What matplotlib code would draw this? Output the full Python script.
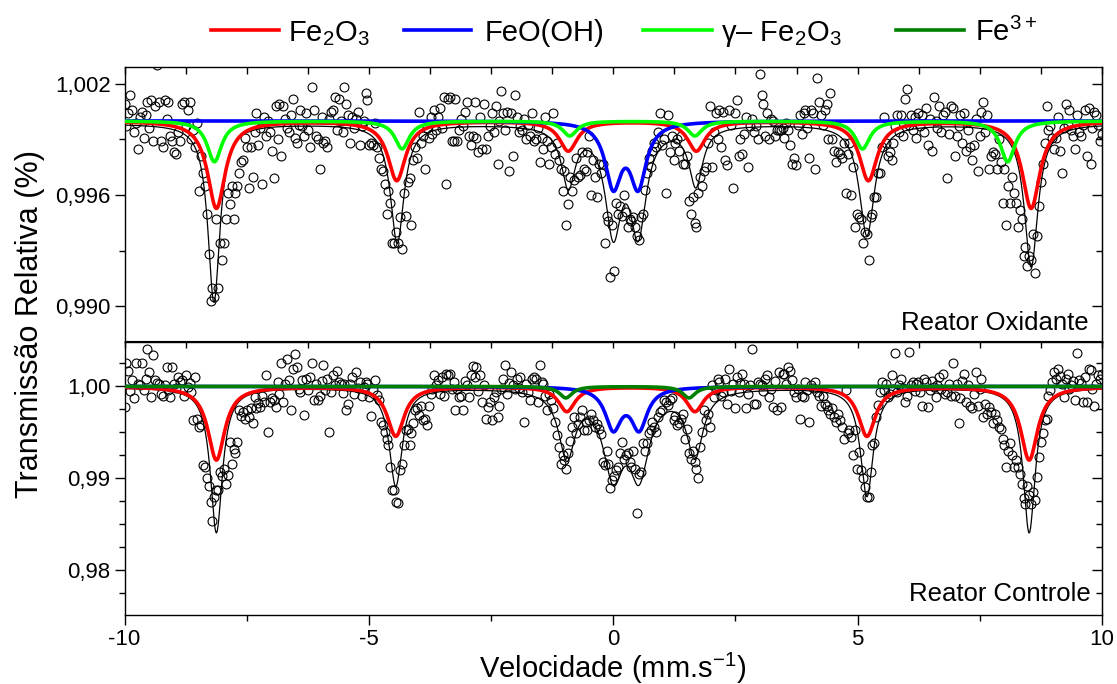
import numpy as np
import matplotlib
matplotlib.use("Agg")
import matplotlib.pyplot as plt
from matplotlib.lines import Line2D
from matplotlib.ticker import FixedLocator, MultipleLocator, FuncFormatter

plt.rcParams['font.family'] = ['Liberation Sans', 'DejaVu Sans']
plt.rcParams['mathtext.fontset'] = 'custom'
plt.rcParams['mathtext.rm'] = 'Liberation Sans'
plt.rcParams['mathtext.it'] = 'Liberation Sans:italic'
plt.rcParams['mathtext.bf'] = 'Liberation Sans:bold'

# ---------------------------------------------------------------- data
VEL_MIN, VEL_MAX, N_CHANNELS = -10.0, 10.0, 512

# Measured relative transmission, offset from 1 in units of 1e-4, one value per channel
oxidante_counts = [
    9, -3, 4, 14, 6, -6, -1, -15, 2, 5, -9, 3, 10, -4, 11, -11, 8, 30, 10, -11, -14, 11, 1, 10, -8, -11, -17, -18, -6, -11, 9, 10,
    -3, 6, 10, -10, -5, -14, -1, -38, -19, -28, -35, -50, -72, -97, -90, -95, -53, -90, -66, -75, -66, -53, -39, -45, -35, -53, -39, -35, -28, -22, -21, -9,
    -14, -36, -14, -30, -6, 4, -13, -4, -34, 2, -8, 0, -6, -16, -31, 8, -10, 9, -19, 8, 1, -4, -6, 3, 12, -9, -12, -2, 6, -3, -8, 4,
    -5, -14, 18, 6, -8, -10, -26, 2, -12, -11, -14, 1, 5, 6, 13, -5, 12, 0, -6, 18, 9, 3, -12, 2, -4, 1, 5, -13, -3, 0, 15, 11,
    -13, -12, -13, -1, -14, -20, -26, -27, -34, -50, -38, -44, -66, -66, -60, -66, -52, -69, -39, -51, -33, -31, -56, -21, -14, -20, 5, -12, -8, -26, -4, -9,
    2, -7, 6, -5, 2, 7, -4, 13, -34, 12, 13, -11, -11, 12, -11, -5, 1, -3, 5, 10, -8, -13, -8, 10, -9, -17, 2, -15, 9, -15, -8, -3,
    4, -6, 8, -23, 0, 16, 4, -5, 5, -27, 4, -19, 14, 2, -6, -3, -5, 1, -10, -2, -8, 4, -11, -10, -4, -22, -9, -15, 2, -11, -23, -14,
    4, -18, -12, -21, -26, -38, -27, -56, -45, -30, -38, -32, -20, -30, -29, -17, -26, -27, -17, -8, -40, -21, -30, -41, -23, -28, -23, -66, -51, -54, -84, -56,
    -81, -44, -50, -46, -51, -40, -49, -57, -53, -54, -52, -57, -62, -64, -52, -50, -37, -28, -20, -25, -16, -12, -14, -6, 4, -13, -10, -39, 3, -17, -8, -21,
    -12, -10, -16, -8, -23, -23, -19, -43, -50, -41, -55, -57, -39, -30, -35, -27, -25, -12, 8, -25, -6, 4, -10, 6, -14, 5, -21, -24, 6, -2, -36, 4,
    11, -19, -10, -18, -7, 2, -25, -3, 1, -6, -3, -10, 25, 14, 9, -8, 4, -10, 1, 0, -8, -5, -5, -5, -4, -9, -1, -5, -13, -23, -20, -24,
    -2, 3, -7, 4, 6, -4, -20, 6, 4, -26, 23, 10, 3, -2, 6, 9, -10, 15, -10, -16, -22, -17, -18, -20, -12, -39, -18, -12, -40, -25, -57, -50,
    -52, -53, -66, -60, -61, -75, -52, -50, -41, -41, -28, -28, -14, 2, -12, -19, -17, -21, -12, -3, 3, -6, 3, -8, 12, 17, -2, 3, -5, 2, -9, 4,
    -3, 3, -6, 7, -13, 1, -16, 13, 0, -4, 8, -6, 3, 5, -31, -7, 8, 7, -19, -8, -3, 3, -12, 4, -16, -5, -14, -21, -13, 1, -27, -8,
    5, 10, -6, 3, -26, -19, -17, -18, -26, -10, -22, -44, -26, -56, -35, -44, -30, -39, -44, -57, -48, -53, -73, -68, -78, -73, -75, -61, -82, -62, -46, -33,
    -23, -12, 8, -5, -3, -9, -15, -9, 2, -16, -28, -4, 9, -2, 6, -5, -8, -15, 3, -6, -8, -2, 6, -19, 7, -23, -4, 5, 3, -2, -11, -7,
]

controle_counts = [
    -22, 26, 17, -5, 7, -13, 26, 3, 1, 25, -4, 8, 41, 16, -12, 34, 7, 4, 3, -8, -10, 1, 21, -4, -12, 21, 3, -2, 10, 5, 7, -10,
    12, -1, 4, -6, -37, 10, -35, -44, -42, -86, -88, -100, -108, -126, -147, -120, -113, -113, -93, -98, -90, -106, -97, -60, -84, -68, -73, -60, -26, -32, -28, -35,
    -26, -33, -24, -40, -12, -24, -18, -22, -10, -17, 12, -50, -17, -13, -15, -22, 5, -8, 26, -17, 3, 30, 7, -26, 19, 35, 21, -3, -6, 7, -31, 8,
    -4, 10, 26, -15, 3, -15, -10, 6, 23, -4, 8, -50, -6, 12, 1, 17, 5, 3, -7, 3, -26, -19, 3, 10, -8, 16, -2, 5, -10, -1, 5, 3,
    -12, -32, -4, 7, -9, -15, -39, -42, -50, -57, -64, -88, -113, -113, -126, -127, -91, -84, -64, -48, -46, -64, -51, -40, -26, -24, -31, -21, -37, -35, -42, -21,
    -8, -3, 12, 2, 7, -8, 10, -10, 14, 12, 14, -3, 5, -26, -3, -12, -10, -26, 6, 1, -12, 12, 22, 10, 21, -5, 12, -17, 1, -35, -22, -17,
    -37, -12, -6, -33, -21, -3, 8, 23, -8, 4, 16, 1, -3, 8, -2, 10, -6, -39, 3, -6, -15, 8, 10, 8, -17, 23, 5, 3, -10, -26, -8, -15,
    -24, -39, -53, -66, -84, -75, -80, -90, -73, -59, -44, -33, -51, -41, -33, -26, -48, -39, -48, -37, -30, -37, -44, -41, -46, -52, -82, -86, -70, -84, -111, -102,
    -98, -91, -88, -72, -60, -79, -75, -73, -82, -88, -70, -90, -138, -95, -93, -62, -70, -62, -51, -48, -39, -44, -50, -33, -28, -26, -15, -17, -20, -15, -13, -37,
    -32, -42, -40, -35, -30, -57, -46, -73, -79, -70, -82, -90, -100, -66, -50, -26, -37, -30, -44, 1, -12, -4, 8, 5, -10, -6, 8, -19, 19, -5, 3, -24,
    10, -6, 4, 14, 3, -24, -8, 1, 41, -19, -19, 5, 3, 1, -5, 8, 12, -12, -3, -22, 6, -26, 16, -22, 14, 14, 3, 21, 17, 7, -6, -12,
    -3, -35, -10, -12, 5, -4, -39, 1, -2, 5, -6, -10, -21, -10, -19, -21, -26, -30, -24, -33, -39, -30, -37, -44, -57, -4, -51, -48, -55, -75, -48, -90,
    -71, -91, -100, -109, -120, -120, -93, -64, -62, -33, -20, -6, 5, -4, 3, -12, -8, 12, -3, 36, -6, 1, 8, -2, -17, -10, 37, 2, 5, -5, 3, 5,
    -6, -21, 8, 5, -22, -4, 6, -1, -12, 2, 10, -3, 14, -8, -6, 3, -10, 25, -10, 3, -40, -13, 6, 14, -17, 1, -21, -24, -8, 16, -21, -3,
    8, -33, -19, -30, -22, -28, -40, -30, -37, -44, -46, -57, -64, -88, -70, -62, -75, -88, -80, -88, -95, -106, -122, -128, -108, -118, -128, -115, -124, -99, -77, -60,
    -51, -37, -35, -10, -4, 5, 16, 8, 19, 11, 3, -12, 8, 14, -3, 1, 6, -15, 36, 7, 4, -17, 10, -17, 19, 18, -3, -21, 3, 12, 8, 14,
]

# Fitted subspectra: line positions (mm/s), depths (1e-4) and widths FWHM (mm/s)
ox_total_pos = [-8.17, -4.42, -0.92, 0.00, 0.51, 1.69, 5.19, 8.55]
ox_total_depth = [96, 64, 32, 55, 55, 32, 60, 77]
ox_total_fwhm = [0.30, 0.34, 0.34, 0.40, 0.40, 0.34, 0.38, 0.34]
ox_total_base = -1.5

ox_hem_pos = [-8.12, -4.43, -0.92, 1.70, 5.22, 8.55]
ox_hem_depth = [47, 32, 16, 16, 32, 47]
ox_hem_fwhm = 0.44

ox_goe_pos = [0.00, 0.51]
ox_goe_depth = [33.5, 33.5]
ox_goe_fwhm = 0.40

ox_mag_pos = [-8.16, -4.32, -0.89, 1.67, 5.10, 8.07]
ox_mag_depth = [22, 15, 8, 8, 15, 22]
ox_mag_fwhm = 0.36

ct_total_pos = [-8.12, -4.45, -0.95, 0.00, 0.53, 1.67, 5.19, 8.51]
ct_total_depth = [158, 107, 72, 87, 87, 72, 118, 158]
ct_total_fwhm = [0.30, 0.32, 0.40, 0.50, 0.50, 0.40, 0.32, 0.30]
ct_total_base = -1.0

ct_hem_pos = [-8.12, -4.45, -0.95, 1.67, 5.19, 8.51]
ct_hem_depth = [80, 54, 27, 27, 54, 80]
ct_hem_fwhm = 0.42

ct_goe_pos = [0.00, 0.53]
ct_goe_depth = [44, 44]
ct_goe_fwhm = 0.40

ct_fe3_pos = [-0.97, 1.55]
ct_fe3_depth = [12.5, 12.5]
ct_fe3_fwhm = 0.32

legend_labels = ['Fe$_2$O$_3$', 'FeO(OH)', 'γ– Fe$_2$O$_3$', 'Fe$^{3+}$']

COL_HEM, COL_GOE, COL_MAG, COL_FE3 = '#FF0000', '#0000FF', '#00FF00', '#008000'


# ---------------------------------------------------------------- helpers
def absorption(v, pos, depth, fwhm, base=0.0):
    pos = np.atleast_1d(pos)
    depth = np.atleast_1d(depth)
    fwhm = np.broadcast_to(np.atleast_1d(fwhm), pos.shape)
    out = np.full_like(v, base, dtype=float)
    for p, d, w in zip(pos, depth, fwhm):
        out -= d / (1.0 + ((v - p) / (w / 2.0)) ** 2)
    return 1.0 + out * 1e-4


velocity = np.linspace(VEL_MIN, VEL_MAX, N_CHANNELS)
v_fine = np.linspace(VEL_MIN, VEL_MAX, 3000)
oxidante = 1.0 + np.asarray(oxidante_counts) * 1e-4
controle = 1.0 + np.asarray(controle_counts) * 1e-4

W, H = 1117, 684
fig = plt.figure(figsize=(W / 100, H / 100), dpi=100)

left, right = 124.5 / W, 1102 / W
y_top, y_mid, y_bot = 1 - 66.7 / H, 1 - 341.5 / H, 1 - 615 / H
ax1 = fig.add_axes([left, y_mid, right - left, y_top - y_mid])
ax2 = fig.add_axes([left, y_bot, right - left, y_mid - y_bot])

marker_kw = dict(ls='none', marker='o', ms=6.4, mfc='none', mec='black', mew=0.8, zorder=2)
comp_lw = 2.6

# top panel
ax1.plot(velocity, oxidante, **marker_kw)
ax1.plot(v_fine, absorption(v_fine, ox_total_pos, ox_total_depth, ox_total_fwhm, ox_total_base),
         color='black', lw=0.9, zorder=3)
ax1.plot(v_fine, absorption(v_fine, ox_hem_pos, ox_hem_depth, ox_hem_fwhm), color=COL_HEM, lw=comp_lw, zorder=4)
ax1.plot(v_fine, absorption(v_fine, ox_goe_pos, ox_goe_depth, ox_goe_fwhm), color=COL_GOE, lw=comp_lw, zorder=5)
ax1.plot(v_fine, absorption(v_fine, ox_mag_pos, ox_mag_depth, ox_mag_fwhm), color=COL_MAG, lw=comp_lw, zorder=6)

# bottom panel
ax2.plot(velocity, controle, **marker_kw)
ax2.plot(v_fine, absorption(v_fine, ct_total_pos, ct_total_depth, ct_total_fwhm, ct_total_base),
         color='black', lw=0.9, zorder=3)
ax2.plot(v_fine, absorption(v_fine, ct_hem_pos, ct_hem_depth, ct_hem_fwhm), color=COL_HEM, lw=comp_lw, zorder=4)
ax2.plot(v_fine, absorption(v_fine, ct_goe_pos, ct_goe_depth, ct_goe_fwhm), color=COL_GOE, lw=comp_lw, zorder=5)
ax2.plot(v_fine, absorption(v_fine, ct_fe3_pos, ct_fe3_depth, ct_fe3_fwhm), color=COL_FE3, lw=comp_lw, zorder=7)

# axes ranges and ticks
TICK_FS = 16
for ax in (ax1, ax2):
    ax.set_xlim(VEL_MIN, VEL_MAX)
    for s in ax.spines.values():
        s.set_linewidth(1.0)

ax1.set_ylim(0.98811, 1.00292)
ax2.set_ylim(0.97511, 1.00489)

comma = lambda nd: FuncFormatter(lambda y, _: f"{y:.{nd}f}".replace('.', ','))

ax1.yaxis.set_major_locator(FixedLocator([0.990, 0.996, 1.002]))
ax1.yaxis.set_minor_locator(FixedLocator([0.993, 0.999]))
ax1.yaxis.set_major_formatter(comma(3))
ax2.yaxis.set_major_locator(FixedLocator([0.98, 0.99, 1.00]))
ax2.yaxis.set_minor_locator(FixedLocator([0.9775, 0.9825, 0.985, 0.9875, 0.9925, 0.995, 0.9975, 1.0025]))
ax2.yaxis.set_major_formatter(comma(2))

for ax in (ax1, ax2):
    ax.tick_params(axis='y', which='both', left=True, right=False, direction='out', labelsize=TICK_FS, width=1.0, pad=3)
    ax.tick_params(axis='y', which='major', length=7)
    ax.tick_params(axis='y', which='minor', length=4)
    ry = ax.secondary_yaxis('right')
    ry.yaxis.set_major_locator(ax.yaxis.get_major_locator())
    ry.yaxis.set_minor_locator(ax.yaxis.get_minor_locator())
    ry.tick_params(axis='y', which='both', direction='in', labelright=False, width=1.0)
    ry.tick_params(axis='y', which='major', length=7)
    ry.tick_params(axis='y', which='minor', length=4)

# top panel x: only inward ticks along the top edge
ax1.xaxis.set_major_locator(MultipleLocator(5))
ax1.xaxis.set_minor_locator(MultipleLocator(1.25))
ax1.tick_params(axis='x', which='both', bottom=False, top=True, direction='in', labelbottom=False,
                length=5, width=1.0)

# bottom panel x
ax2.xaxis.set_major_locator(MultipleLocator(5))
ax2.xaxis.set_minor_locator(MultipleLocator(2.5))
ax2.tick_params(axis='x', which='both', bottom=True, top=False, direction='out', labelsize=TICK_FS,
                width=1.0, pad=3)
ax2.tick_params(axis='x', which='major', length=7)
ax2.tick_params(axis='x', which='minor', length=4)
ax2.xaxis.set_major_formatter(FuncFormatter(lambda x, _: f"{x:g}"))
tx = ax2.secondary_xaxis('top')
tx.xaxis.set_major_locator(MultipleLocator(5))
tx.xaxis.set_minor_locator(MultipleLocator(1.25))
tx.tick_params(axis='x', which='both', direction='in', labeltop=False, length=5, width=1.0)

# panel captions
ax1.text(0.986, 0.042, 'Reator Oxidante', transform=ax1.transAxes, ha='right', va='baseline', fontsize=18.5)
ax2.text(0.988, 0.051, 'Reator Controle', transform=ax2.transAxes, ha='right', va='baseline', fontsize=18.5)

# axis titles
fig.text(30 / W, 1 - 324 / H, 'Transmissão Relativa (%)', rotation=90, ha='center', va='center', fontsize=22)
fig.text(612.5 / W, 1 - 678 / H, 'Velocidade (mm.s$^{-1}$)', ha='center', va='baseline', fontsize=21)

# legend row across the top
entries = [(211, 279, 288, COL_HEM), (404, 471, 485, COL_GOE), (643, 712, 721, COL_MAG), (896, 964, 975, COL_FE3)]
for (x0, x1, xt, col), lab in zip(entries, legend_labels):
    fig.add_artist(Line2D([x0 / W, x1 / W], [1 - 30 / H, 1 - 30 / H], color=col, lw=comp_lw,
                          transform=fig.transFigure))
    fig.text(xt / W, 1 - 41 / H, lab, ha='left', va='baseline', fontsize=21)

fig.savefig('out.png', dpi=100)
